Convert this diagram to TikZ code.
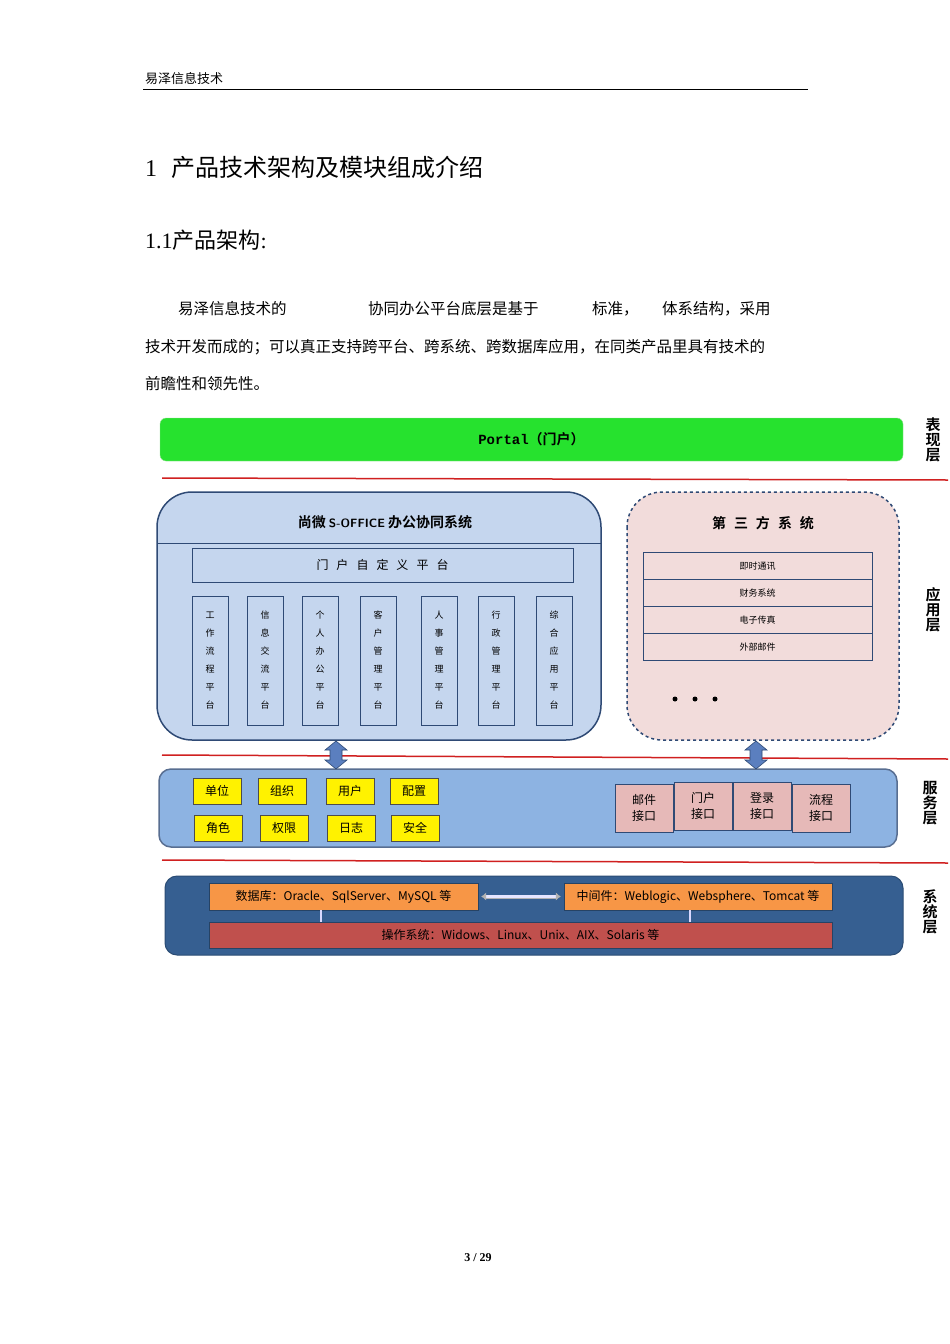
\documentclass[tikz,border=0pt]{standalone}
\usepackage{fontspec}
\setmainfont{Liberation Serif}
\setmonofont{Liberation Mono}
\newfontfamily\cjk{Noto Sans CJK SC}
\newfontfamily\cjkb{Noto Sans CJK SC}[BoldFont={Noto Sans CJK SC Bold}]
\usetikzlibrary{arrows.meta}
\definecolor{appfill}{HTML}{C5D6EE}
\definecolor{appline}{HTML}{2F4A75}
\definecolor{tpfill}{HTML}{F2DCDB}
\definecolor{svcfill}{HTML}{8DB3E2}
\definecolor{sysfill}{HTML}{365F91}
\definecolor{ifill}{HTML}{E6B9B8}
\definecolor{org}{HTML}{F79646}
\definecolor{osred}{HTML}{C0504D}
\definecolor{redline}{HTML}{D02020}
\definecolor{arrowfill}{HTML}{5B7FBF}
\tikzset{
 txt/.style={inner sep=0pt,anchor=west},
 vbox/.style={draw=appline,fill=appfill,minimum width=36pt,minimum height=129pt,inner sep=0pt,align=center,font=\cjk\fontsize{9}{18}\selectfont},
 ybox/.style={draw=black!70,fill=yellow,minimum width=48pt,minimum height=26pt,inner sep=0pt,font=\cjk\fontsize{12}{14}\selectfont},
 ibox/.style={draw=appline,fill=ifill,minimum width=58pt,minimum height=48pt,inner sep=0pt,align=center,font=\cjk\fontsize{12}{16}\selectfont},
 trow/.style={draw=appline,fill=tpfill,minimum width=229pt,minimum height=27pt,inner sep=0pt,font=\cjk\fontsize{9}{10}\selectfont},
 layer/.style={inner sep=0pt,align=center,font=\cjkb\bfseries\fontsize{15}{15}\selectfont},
 rline/.style={redline,line width=1.5pt},
 fatarrow/.style={draw=appline,fill=arrowfill,line width=0.6pt}
}
\begin{document}
\begin{tikzpicture}[x=1pt,y=-1pt]
\useasboundingbox (0,0) rectangle (950,1344);
\fill[white] (0,0) rectangle (950,1344);
% header
\node[txt,font=\cjk\fontsize{13}{13}\selectfont] (hdr) at (145,79) {易泽信息技术};
\draw[line width=1pt] (143,89) -- (808,89);
\node[txt,font=\cjk\fontsize{24}{24}\selectfont] (h1) at (145,167) {\rmfamily 1\hspace{14pt}\cjk 产品技术架构及模块组成介绍};
\node[txt,font=\cjk\fontsize{22}{22}\selectfont] (h2) at (145,240) {\rmfamily 1.1\cjk 产品架构\rmfamily :};
\begin{scope}[every node/.style={txt,font=\cjk\fontsize{15.5}{16}\selectfont}]
\node (p1a) at (178,309) {易泽信息技术的};
\node (p1b) at (368,309) {协同办公平台底层是基于};
\node (p1c) at (592,309) {标准，};
\node (p1d) at (662,309) {体系结构，采用};
\node (p2) at (145,347) {技术开发而成的；可以真正支持跨平台、跨系统、跨数据库应用，在同类产品里具有技术的};
\node (p3) at (145,384) {前瞻性和领先性。};
\end{scope}
% portal
\node[draw=green!70!black!40,fill={rgb,255:red,38;green,226;blue,46},rounded corners=6pt,minimum width=743pt,minimum height=43pt,inner sep=0pt,font=\ttfamily\bfseries\fontsize{14}{14}\selectfont] (portal) at (531.5,439.5) {Portal{\cjkb\bfseries（门户）}};
% layer labels
\node[layer] (l1) at (933,440) {表\\现\\层};
\node[layer] (l2) at (933,610) {应\\用\\层};
\node[layer] (l3) at (930,803) {服\\务\\层};
\node[layer] (l4) at (930,912) {系\\统\\层};
% red lines
\draw[rline] (162,478) -- (948,480);
\draw[rline] (162,755) -- (948,759);
\draw[rline] (162,860) -- (948,863);
% app box
\draw[appline,fill=appfill,line width=1.5pt,rounded corners=35pt] (157,492) rectangle (601,740);
\draw[appline,line width=0.8pt] (157,543) -- (601,543);
\node[font=\cjkb\bfseries\fontsize{14}{14}\selectfont] (apptitle) at (385,522) {尚微 {\sffamily\fontsize{12}{12}\selectfont S-OFFICE} 办公协同系统};
\node[draw=appline,fill=appfill,minimum width=381pt,minimum height=34pt,inner sep=0pt,font=\cjk\fontsize{12}{12}\selectfont] (portaldef) at (382.5,565) {门\hspace{8pt}户\hspace{8pt}自\hspace{8pt}定\hspace{8pt}义\hspace{8pt}平\hspace{8pt}台};
\node[vbox] (m1) at (210,660.5) {工\\作\\流\\程\\平\\台};
\node[vbox] (m2) at (265,660.5) {信\\息\\交\\流\\平\\台};
\node[vbox] (m3) at (320,660.5) {个\\人\\办\\公\\平\\台};
\node[vbox] (m4) at (378,660.5) {客\\户\\管\\理\\平\\台};
\node[vbox] (m5) at (439,660.5) {人\\事\\管\\理\\平\\台};
\node[vbox] (m6) at (496,660.5) {行\\政\\管\\理\\平\\台};
\node[vbox] (m7) at (554,660.5) {综\\合\\应\\用\\平\\台};
% third-party
\draw[appline,fill=tpfill,line width=1.5pt,dashed,rounded corners=35pt] (627,492) rectangle (899,740);
\node[font=\cjkb\bfseries\fontsize{14}{14}\selectfont] (tptitle) at (763,523) {第\hspace{8pt}三\hspace{8pt}方\hspace{8pt}系\hspace{8pt}统};
\node[trow] (t1) at (757.5,566) {即时通讯};
\node[trow] (t2) at (757.5,593) {财务系统};
\node[trow] (t3) at (757.5,620) {电子传真};
\node[trow] (t4) at (757.5,647) {外部邮件};
\foreach \x in {675,695,715} \fill (\x,699) circle (2.5pt);
% service box
\draw[appline!80,fill=svcfill,line width=1.5pt,rounded corners=12pt] (159,769) rectangle (897,847);
\coordinate (svcA) at (336,769);
\coordinate (svcB) at (756,769);
\coordinate (appA) at (336,741);
\coordinate (appB) at (756,741);
\foreach \a/\b in {svcA/appA,svcB/appB}{
 \draw[fatarrow] (\b) -- ++(11,9) -- ++(-5,0) -- ++(0,10) -- ++(5,0) -- (\a) -- ++(-11,-9) -- ++(5,0) -- ++(0,-10) -- ++(-5,0) -- cycle;
}
\node[ybox] (y1) at (217,791) {单位};
\node[ybox] (y2) at (282,791) {组织};
\node[ybox] (y3) at (350,791) {用户};
\node[ybox] (y4) at (414,791) {配置};
\node[ybox] (y5) at (218,828) {角色};
\node[ybox] (y6) at (284,828) {权限};
\node[ybox] (y7) at (351,828) {日志};
\node[ybox] (y8) at (415,828) {安全};
\node[ibox] (i1) at (644,808) {邮件\\接口};
\node[ibox] (i2) at (703,806) {门户\\接口};
\node[ibox] (i3) at (762,806) {登录\\接口};
\node[ibox] (i4) at (821,808) {流程\\接口};
% system box
\draw[sysfill!80!black,fill=sysfill,line width=1pt,rounded corners=12pt] (165,876) rectangle (903,955);
\begin{scope}[every node/.style={inner sep=0pt,font=\cjk\fontsize{12}{12}\selectfont}]
\node[draw=sysfill!70!black,fill=org,minimum width=269pt,minimum height=27pt] (db) at (343.5,896.5) {数据库：Oracle、SqlServer、MySQL 等};
\node[draw=sysfill!70!black,fill=org,minimum width=268pt,minimum height=27pt] (mw) at (698,896.5) {中间件：Weblogic、Websphere、Tomcat 等};
\node[draw=sysfill!70!black,fill=osred,minimum width=623pt,minimum height=26pt] (os) at (520.5,935) {操作系统：Widows、Linux、Unix、AIX、Solaris 等};
\end{scope}
\draw[gray!60,line width=0.5pt,{Latex[length=5pt,width=8pt]}-{Latex[length=5pt,width=8pt]},double=white!90!blue,double distance=3pt] ([xshift=3pt]db.east) -- ([xshift=-3pt]mw.west);
\draw[white!85!blue,line width=2.5pt] (db.south -| 321,0) -- (os.north -| 321,0);
\draw[white!85!blue,line width=2.5pt] (mw.south -| 690,0) -- (os.north -| 690,0);
% page number
\node[font=\bfseries\fontsize{12}{12}\selectfont] (pg) at (478,1258) {3 / 29};
\end{tikzpicture}
\end{document}
